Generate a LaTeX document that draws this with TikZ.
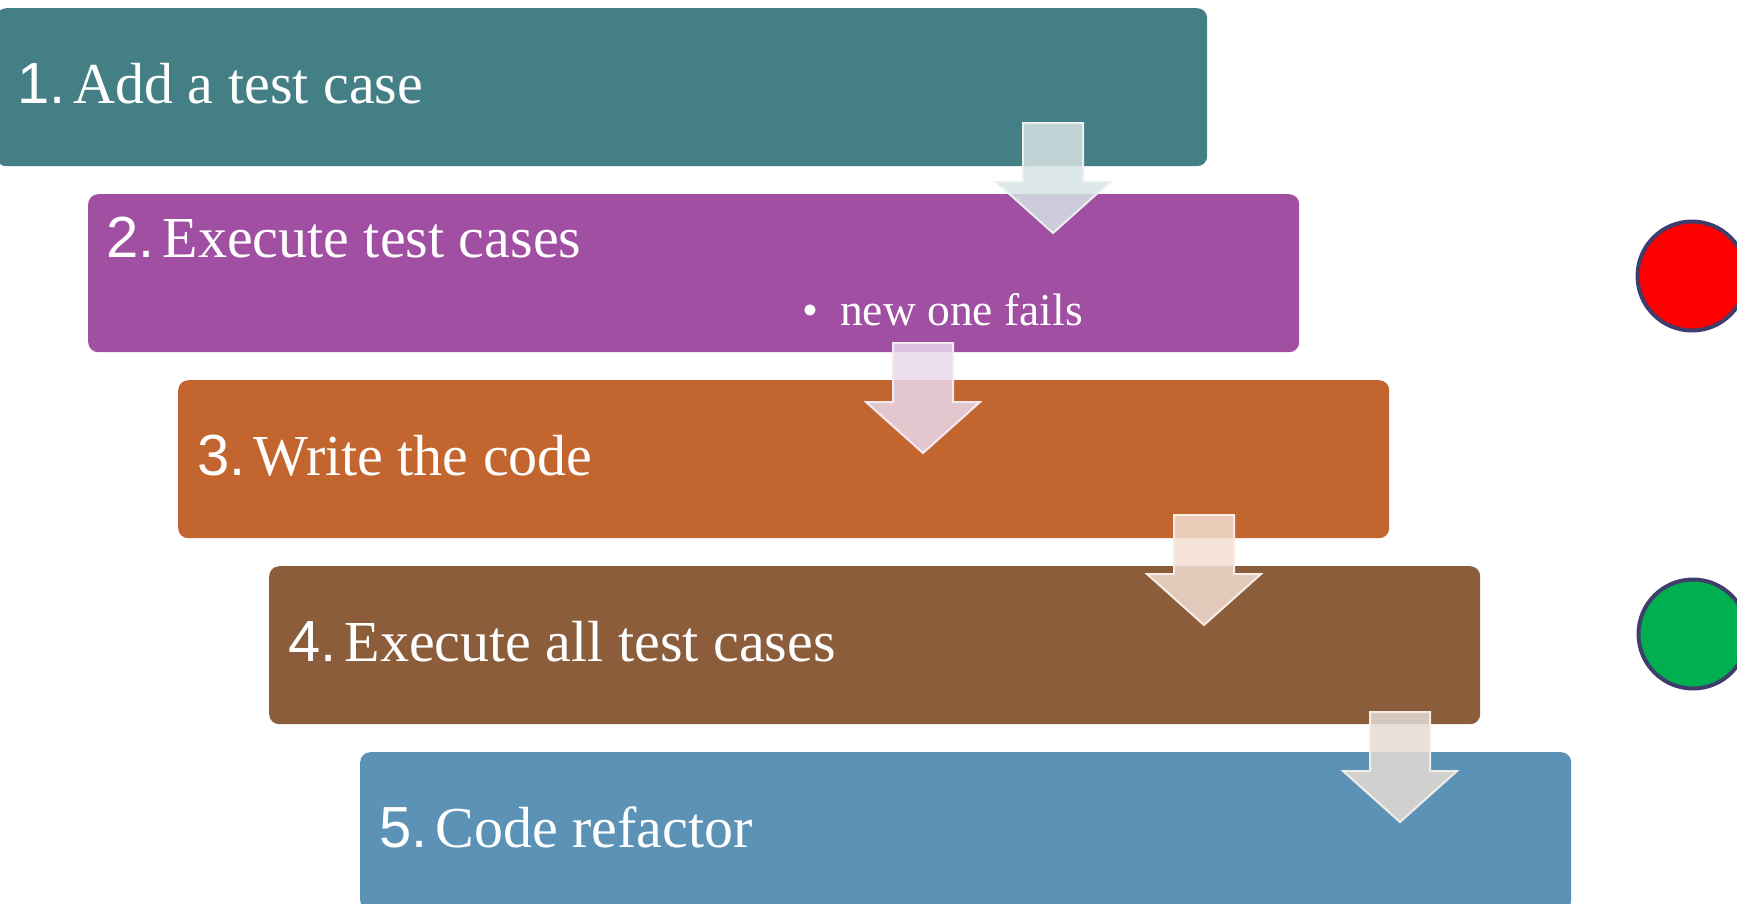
\documentclass[tikz,border=0pt]{standalone}
\usepackage{fontspec}
\setmainfont{Liberation Serif}
\newfontfamily\numfont{Liberation Sans}
\definecolor{cA}{HTML}{447F86}
\definecolor{cB}{HTML}{A04FA2}
\definecolor{cC}{HTML}{C3652E}
\definecolor{cD}{HTML}{8B5D3B}
\definecolor{cE}{HTML}{5B92B6}
\definecolor{ring}{HTML}{3F3D6B}
\definecolor{redc}{HTML}{FF0000}
\definecolor{greenc}{HTML}{00B050}
\newcommand{\stepnum}[1]{{\numfont #1.}\kern-6.5pt\ }
\begin{document}
\begin{tikzpicture}[x=1pt,y=-1pt,
  stepbox/.style={rectangle,rounded corners=10pt,minimum width=1211pt,minimum height=158pt,anchor=north west,inner sep=0pt,draw=none},
  steplabel/.style={anchor=base west,inner sep=0pt,text=white,font=\fontsize{58}{60}\selectfont},
  sublabel/.style={anchor=base west,inner sep=0pt,text=white,font=\fontsize{45.5}{48}\selectfont},
  light/.style={circle,minimum size=109pt,inner sep=0pt,draw=ring,line width=4pt}]
\useasboundingbox (0,0) rectangle (1737,903);
\clip (0,0) rectangle (1737,903);
\node[stepbox,fill=cA] (b1) at (-4,8) {};
\node[stepbox,fill=cB] (b2) at (88,194) {};
\node[stepbox,fill=cC] (b3) at (178,380) {};
\node[stepbox,fill=cD] (b4) at (269,566) {};
\node[stepbox,fill=cE] (b5) at (360,752) {};
\node[steplabel] (t1) at (17,103) {\stepnum{1}Add a test case};
\node[steplabel] (t2) at (106,257) {\stepnum{2}Execute test cases};
\node[steplabel] (t3) at (197,475) {\stepnum{3}Write the code};
\node[steplabel] (t4) at (288,661) {\stepnum{4}Execute all test cases};
\node[steplabel] (t5) at (379,847) {\stepnum{5}Code refactor};
\node[sublabel] (bul) at (802,325) {\textbullet};
\node[sublabel] (t2b) at (840,325) {new one fails};
% block arrows
\newcommand{\blockarrow}[3]{%
  \fill[#2!22!white,fill opacity=0.85,draw=#2!12!white,line width=2pt,line join=miter]
    (#1-30,#3) -- (#1+30,#3) -- (#1+30,#3+59) -- (#1+57,#3+59) -- (#1,#3+110)
    -- (#1-57,#3+59) -- (#1-30,#3+59) -- cycle;}
\blockarrow{1053}{cA}{123}
\blockarrow{923}{cB}{343}
\blockarrow{1204}{cC}{515}
\blockarrow{1400}{cD}{712}
\node[light,fill=redc] (red) at (1692,276) {};
\node[light,fill=greenc] (green) at (1693,634) {};
\end{tikzpicture}
\end{document}
